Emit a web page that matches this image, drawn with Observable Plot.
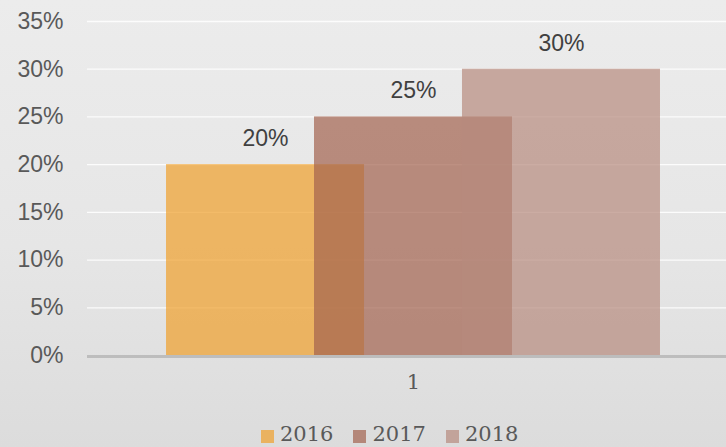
<!DOCTYPE html>
<html>
<head>
<meta charset="utf-8">
<script src="https://cdn.jsdelivr.net/npm/d3@7"></script>
<script src="https://cdn.jsdelivr.net/npm/@observablehq/plot@0.6"></script>
<style>
  html, body { margin: 0; padding: 0; overflow: hidden; }
  #chart {
    width: 726px; height: 447px; position: relative; overflow: hidden;
    background: linear-gradient(to bottom, #ececec 0%, #e6e6e6 55%, #dcdcdc 100%);
  }
  #legend {
    position: absolute; left: 261px; top: 424px; height: 21px; line-height: 21px;
    display: flex; align-items: center; gap: 0;
    font-family: "DejaVu Serif", serif; font-size: 21px; color: #595959;
  }
  #legend .item { display: flex; align-items: center; margin-right: 20px; }
  #legend .sw { width: 13px; height: 13px; margin-right: 6px; margin-top: 3px; }
</style>
</head>
<body>
<div id="chart"></div>
<script>
const categories = ["1"];
const years = ["2016", "2017", "2018"];
const values = [0.20, 0.25, 0.30];
const colors = ["#efa02b", "#a3634f", "#b68a7e"];
const yTicks = [0, 0.05, 0.10, 0.15, 0.20, 0.25, 0.30, 0.35];

const data = years.map((y, i) => ({ year: y, value: values[i], category: categories[0] }));
const pct = d => Math.round(d * 100) + "%";

const plot = Plot.plot({
  width: 726,
  height: 415,
  marginLeft: 87,
  marginRight: -13,
  marginTop: 21,
  marginBottom: 60,
  style: { background: "transparent", overflow: "hidden" },
  x: { type: "band", domain: years, paddingInner: -0.338, paddingOuter: 0.534, round: false, axis: null },
  y: { domain: [0, 0.35], axis: null },
  color: { domain: years, range: colors },
  marks: [
    Plot.gridY(yTicks.filter(d => d > 0), { stroke: "#ffffff", strokeOpacity: 0.85, strokeWidth: 1.3 }),
    Plot.axisY(yTicks, {
      label: null, tickSize: 0, tickPadding: 24, tickFormat: pct,
      fontSize: 23, fontFamily: "'Liberation Sans', Arial, sans-serif", fill: "#595959"
    }),
    Plot.barY(data, { x: "year", y: "value", fill: "year", fillOpacity: 0.7 }),
    Plot.ruleY([0], { stroke: "#bdbdbd", strokeWidth: 3, dy: 1 }),
    Plot.text(data, {
      x: "year", y: "value", text: d => pct(d.value), dy: -26,
      fontSize: 23, fontFamily: "'Liberation Sans', Arial, sans-serif", fill: "#404040"
    }),
    Plot.text(categories, {
      text: d => d, frameAnchor: "bottom", dy: 33,
      fontSize: 21, fontFamily: "'DejaVu Serif', serif", fill: "#595959"
    })
  ]
});

const chart = document.getElementById("chart");
chart.appendChild(plot);

const legend = document.createElement("div");
legend.id = "legend";
years.forEach((y, i) => {
  const item = document.createElement("div");
  item.className = "item";
  const sw = document.createElement("span");
  sw.className = "sw";
  sw.style.background = colors[i];
  sw.style.opacity = 0.7;
  const t = document.createElement("span");
  t.textContent = y;
  item.appendChild(sw);
  item.appendChild(t);
  legend.appendChild(item);
});
chart.appendChild(legend);
</script>
</body>
</html>
